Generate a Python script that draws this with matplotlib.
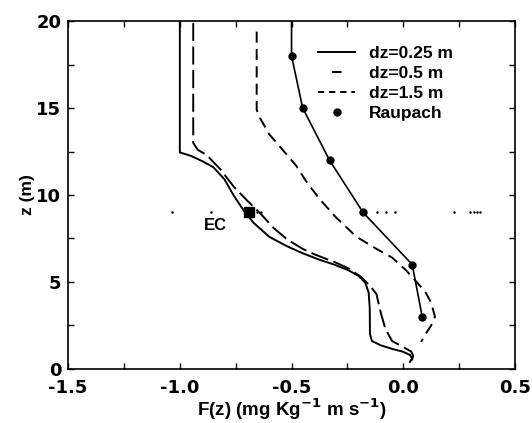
## Vertical flux profiles F(z) for three grid spacings vs Raupach points

import numpy as np
import matplotlib
matplotlib.use('Agg')
import matplotlib.pyplot as plt
from matplotlib.ticker import MultipleLocator
from matplotlib.lines import Line2D

plt.rcParams['font.family'] = ['Liberation Sans', 'DejaVu Sans']
plt.rcParams['font.weight'] = 'bold'
plt.rcParams['lines.scale_dashes'] = False

# dz = 0.25 m (solid)
x_025 = [-1.0, -1.0, -0.95, -0.90, -0.85, -0.80, -0.76, -0.716, -0.67, -0.60, -0.52, -0.45,
         -0.38, -0.31, -0.25, -0.20, -0.17, -0.155, -0.15, -0.149, -0.14, -0.10, -0.05, 0.0,
         0.03, 0.04, 0.03]
z_025 = [20.0, 12.45, 12.25, 11.95, 11.6, 10.9, 10.0, 9.14, 8.4, 7.6, 7.05, 6.65,
         6.3, 6.0, 5.7, 5.35, 4.95, 4.4, 3.5, 2.0, 1.6, 1.35, 1.15, 0.98,
         0.8, 0.6, 0.4]

# dz = 0.5 m (long dash)
x_05 = [-0.94, -0.94, -0.92, -0.88, -0.82, -0.76, -0.70, -0.633, -0.58, -0.52, -0.45, -0.40,
        -0.30, -0.24, -0.19, -0.15, -0.12, -0.10, -0.08, -0.05, 0.0, 0.035, 0.045, 0.035]
z_05 = [19.9, 13.0, 12.6, 12.3, 11.5, 10.5, 9.7, 8.85, 8.1, 7.45, 6.9, 6.6,
        6.1, 5.75, 5.3, 4.8, 4.3, 3.2, 2.3, 1.6, 1.25, 1.0, 0.75, 0.4]

# dz = 1.5 m (short dash)
x_15 = [-0.656, -0.656, -0.64, -0.60, -0.54, -0.48, -0.43, -0.37, -0.30, -0.21, -0.12, -0.05,
        0.01, 0.06, 0.10, 0.125, 0.142, 0.125, 0.10, 0.08]
z_15 = [19.4, 14.9, 14.4, 13.5, 12.6, 11.7, 10.7, 9.7, 8.7, 7.6, 6.9, 6.4,
        5.7, 5.0, 4.4, 3.8, 3.0, 2.5, 2.0, 1.55]

# Raupach points
x_rau = [-0.50, -0.45, -0.33, -0.18, 0.04, 0.085]
z_rau = [18, 15, 12, 9, 6, 3]

# EC measurement
x_ec = [-0.69]
z_ec = [9]

# stray dots along z = 9
x_dots = [-1.035, -0.86, -0.654, -0.636, -0.117, -0.077, -0.037, 0.227, 0.30, 0.315, 0.33, 0.345]

fig = plt.figure(figsize=(5.32, 4.23), dpi=100)
ax = fig.add_axes([0.128, 0.128, 0.840, 0.822])

ax.plot(x_025, z_025, color='black', lw=1.4)
l05, = ax.plot(x_05, z_05, color='black', lw=1.4)
l05.set_dashes((13, 4))
l15, = ax.plot(x_15, z_15, color='black', lw=1.4)
l15.set_dashes((8, 4.5))
ax.plot([x_rau[0]] + x_rau, [20] + z_rau, color='black', lw=1.2)
ax.plot(x_rau, z_rau, 'o', color='black', ms=5)
ax.plot(x_ec, z_ec, 's', color='black', ms=7)
ax.plot(x_dots, [9] * len(x_dots), '.', color='black', ms=1.5)
ax.text(-0.84, 8.25, 'EC', fontsize=12, fontweight='bold', ha='center', va='center')

ax.set_xlim(-1.5, 0.5)
ax.set_ylim(0, 20)
ax.xaxis.set_major_locator(MultipleLocator(0.5))
ax.xaxis.set_minor_locator(MultipleLocator(0.25))
ax.yaxis.set_major_locator(MultipleLocator(5))
ax.yaxis.set_minor_locator(MultipleLocator(2.5))
ax.set_xticklabels(['%.1f' % v for v in ax.get_xticks()])
ax.tick_params(which='both', direction='in', top=True, right=True, length=4, width=1)
ax.tick_params(axis='x', pad=7)
ax.tick_params(axis='y', pad=5)
for lab in ax.get_xticklabels() + ax.get_yticklabels():
    lab.set_family('DejaVu Sans')
    lab.set_fontsize(13)
    lab.set_fontweight('bold')
for s in ax.spines.values():
    s.set_linewidth(1.2)

ax.set_xlabel('F(z) (mg Kg$^{\\mathbf{-1}}$ m s$^{\\mathbf{-1}}$)', fontsize=13.5,
              fontweight='bold', labelpad=0)
ax.set_ylabel('z (m)', fontsize=12.5, fontweight='bold', labelpad=1)

# legend proxies (dz=0.5 shows a single short dash like the original)
h = [Line2D([], [], color='black', lw=1.4),
     Line2D([], [], color='black', lw=1.4, linestyle=(27.0, (7, 30))),
     Line2D([], [], color='black', lw=1.4, linestyle=(0, (4.5, 3.5))),
     Line2D([], [], color='black', marker='o', ms=5, linestyle='none')]
labels = ['dz=0.25 m', 'dz=0.5 m', 'dz=1.5 m', 'Raupach']
ax.legend(h, labels, loc='upper left', bbox_to_anchor=(0.56, 0.93), frameon=False,
          fontsize=12.5, handlelength=2.1, handletextpad=0.8, labelspacing=0.28,
          borderpad=0, borderaxespad=0)

fig.savefig('out.png', dpi=100)
